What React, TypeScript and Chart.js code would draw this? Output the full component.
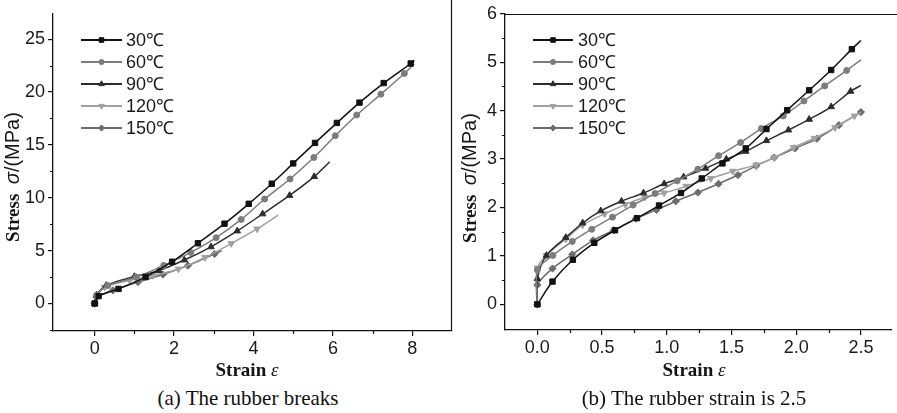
import React, { useEffect, useRef } from 'react';
import { Chart, registerables } from 'chart.js';
import { drawPoint } from 'chart.js/helpers';

Chart.register(...registerables);

// ---------- shared series info ----------
const seriesLabels = ['30℃', '60℃', '90℃', '120℃', '150℃'];
const seriesColors = ['#111111', '#7c7c7c', '#2c2c2c', '#a0a0a0', '#6c6c6c'];
const pointStyles = ['rect', 'circle', 'triangle', 'triangle', 'rectRot'];
const pointRotations = [0, 0, 0, 180, 0];
const pointRadii = [3.8, 3, 3.8, 3.8, 3.6];

const xTitleParts = ['Strain ', 'ε'];
const yTitleParts = ['Stress  ', 'σ', '/(MPa)'];

// ---------- chart (a): the rubber breaks ----------
const a30x = [0, 0.1, 0.6, 1.28, 1.95, 2.6, 3.27, 3.88, 4.46, 5.0, 5.55, 6.1, 6.67, 7.28, 7.96, 8.05];
const a30y = [0, 0.7, 1.38, 2.5, 3.95, 5.7, 7.55, 9.43, 11.33, 13.25, 15.19, 17.08, 19.0, 20.85, 22.7, 23.0];
const a60x = [0, 0.05, 0.33, 1.05, 1.74, 2.42, 3.06, 3.69, 4.28, 4.92, 5.52, 6.06, 6.6, 7.21, 7.8, 8.05];
const a60y = [0, 0.8, 1.7, 2.5, 3.6, 4.83, 6.23, 7.95, 9.88, 11.78, 13.81, 15.87, 17.83, 19.8, 21.76, 22.65];
const a90x = [0, 0.05, 0.29, 1.0, 1.61, 2.26, 2.93, 3.59, 4.23, 4.91, 5.53, 5.92];
const a90y = [0, 0.8, 1.71, 2.55, 3.11, 4.11, 5.36, 6.86, 8.47, 10.22, 12.0, 13.4];
const a120x = [0, 0.05, 0.25, 0.88, 1.47, 2.11, 2.78, 3.44, 4.09, 4.62];
const a120y = [0, 0.7, 1.55, 2.18, 2.65, 3.27, 4.36, 5.67, 7.05, 8.35];
const a150x = [0, 0.05, 0.46, 1.09, 1.72, 2.35, 3.02, 3.2];
const a150y = [0, 0.6, 1.25, 2.03, 2.74, 3.58, 4.68, 5.0];
const aXTicks = [0, 2, 4, 6, 8];
const aXMinor = [1, 3, 5, 7];
const aYTicks = [0, 5, 10, 15, 20, 25];
const aYMinor = [-2.5, 2.5, 7.5, 12.5, 17.5, 22.5];
const aMarkLast = [false, false, false, false, false];

// ---------- chart (b): strain up to 2.5 ----------
const b30x = [0, 0.117, 0.274, 0.44, 0.6, 0.77, 0.94, 1.11, 1.27, 1.43, 1.61, 1.77, 1.93, 2.1, 2.27, 2.43, 2.5];
const b30y = [0, 0.47, 0.92, 1.27, 1.53, 1.78, 2.04, 2.3, 2.6, 2.91, 3.22, 3.62, 4.01, 4.42, 4.84, 5.27, 5.45];
const b60x = [0, 0, 0.12, 0.27, 0.42, 0.58, 0.74, 0.91, 1.08, 1.24, 1.4, 1.57, 1.73, 1.9, 2.06, 2.22, 2.39, 2.5];
const b60y = [0, 0.71, 1.01, 1.3, 1.55, 1.8, 2.05, 2.29, 2.55, 2.79, 3.07, 3.34, 3.63, 3.89, 4.2, 4.51, 4.83, 5.05];
const b90x = [0, 0, 0.07, 0.22, 0.35, 0.49, 0.65, 0.82, 0.98, 1.13, 1.3, 1.46, 1.61, 1.77, 1.94, 2.1, 2.27, 2.42, 2.5];
const b90y = [0, 0.53, 1.01, 1.38, 1.68, 1.93, 2.13, 2.3, 2.49, 2.63, 2.81, 3.0, 3.16, 3.38, 3.6, 3.82, 4.08, 4.4, 4.52];
const b120x = [0, 0, 0.07, 0.22, 0.35, 0.52, 0.68, 0.83, 0.98, 1.15, 1.34, 1.51, 1.69, 1.83, 1.98, 2.14, 2.3, 2.45, 2.5];
const b120y = [0, 0.75, 1.01, 1.35, 1.64, 1.87, 2.06, 2.21, 2.3, 2.44, 2.6, 2.75, 2.88, 3.03, 3.24, 3.43, 3.65, 3.89, 3.97];
const b150x = [0, 0, 0.117, 0.27, 0.43, 0.59, 0.76, 0.92, 1.07, 1.24, 1.4, 1.55, 1.69, 1.83, 1.99, 2.16, 2.33, 2.5];
const b150y = [0, 0.4, 0.74, 1.03, 1.32, 1.53, 1.77, 1.95, 2.13, 2.31, 2.49, 2.67, 2.86, 3.03, 3.22, 3.42, 3.7, 3.97];
const bXTicks = [0, 0.5, 1.0, 1.5, 2.0, 2.5];
const bXMinor = [0.25, 0.75, 1.25, 1.75, 2.25];
const bYTicks = [0, 1, 2, 3, 4, 5, 6];
const bYMinor = [0.5, 1.5, 2.5, 3.5, 4.5, 5.5];
const bMarkLast = [false, false, false, false, true];

const SANS = '"Liberation Sans", Arial, sans-serif';
const SERIF = '"Liberation Serif", "Times New Roman", serif';

function buildDatasets(xs: number[][], ys: number[][], markLast: boolean[]) {
  return xs.map((xa, s) => {
    const n = xa.length;
    return {
      label: seriesLabels[s],
      data: xa.map((x, i) => ({ x, y: ys[s][i] })),
      borderColor: seriesColors[s],
      backgroundColor: seriesColors[s],
      pointBackgroundColor: seriesColors[s],
      pointBorderColor: seriesColors[s],
      borderWidth: 1.5,
      pointStyle: pointStyles[s],
      pointRotation: pointRotations[s],
      pointBorderWidth: 1,
      pointRadius: (ctx: any) => (ctx.dataIndex === n - 1 && !markLast[s] ? 0 : pointRadii[s]),
      tension: 0.3,
      fill: false,
    };
  });
}

function drawRich(ctx: CanvasRenderingContext2D, parts: { text: string; font: string }[], cx: number, cy: number, rot: number) {
  ctx.save();
  ctx.translate(cx, cy);
  ctx.rotate(rot);
  const widths = parts.map((p) => {
    ctx.font = p.font;
    return ctx.measureText(p.text).width;
  });
  const total = widths.reduce((a, b) => a + b, 0);
  let x = -total / 2;
  ctx.textAlign = 'left';
  ctx.textBaseline = 'alphabetic';
  ctx.fillStyle = '#151515';
  parts.forEach((p, i) => {
    ctx.font = p.font;
    ctx.fillText(p.text, x, 6);
    x += widths[i];
  });
  ctx.restore();
}

const decorPlugin = {
  id: 'decor',
  afterDraw(chart: any, _args: any, opts: any) {
    const ctx: CanvasRenderingContext2D = chart.ctx;
    const { left, right, top, bottom } = chart.chartArea;
    const xs = chart.scales.x;
    const ys = chart.scales.y;
    ctx.save();
    ctx.strokeStyle = '#111';
    ctx.lineWidth = 1.2;
    // minor ticks
    ctx.beginPath();
    (opts.xMinor || []).forEach((v: number) => {
      const px = Math.round(xs.getPixelForValue(v)) + 0.5;
      ctx.moveTo(px, bottom);
      ctx.lineTo(px, bottom + 3);
    });
    (opts.yMinor || []).forEach((v: number) => {
      const py = Math.round(ys.getPixelForValue(v)) + 0.5;
      if (py < top || py > bottom) return;
      ctx.moveTo(left, py);
      ctx.lineTo(left - 3, py);
    });
    ctx.stroke();
    // frame parts
    ctx.beginPath();
    if (opts.rightBorder) {
      const rx = Math.round(right) - 0.5;
      ctx.moveTo(rx, 0);
      ctx.lineTo(rx, bottom);
    }
    if (opts.topBorder) {
      const ty = Math.round(top) + 0.5;
      ctx.moveTo(left, ty);
      ctx.lineTo(chart.width, ty);
    }
    ctx.stroke();
    ctx.restore();

    // axis titles
    drawRich(
      ctx,
      [
        { text: xTitleParts[0], font: `bold 19px ${SERIF}` },
        { text: xTitleParts[1], font: `italic 19px ${SERIF}` },
      ],
      opts.xTitle[0],
      opts.xTitle[1],
      0
    );
    drawRich(
      ctx,
      [
        { text: yTitleParts[0], font: `bold 19px ${SERIF}` },
        { text: yTitleParts[1], font: `italic 20px ${SANS}` },
        { text: yTitleParts[2], font: `20px ${SANS}` },
      ],
      opts.yTitle[0],
      opts.yTitle[1],
      -Math.PI / 2
    );

    // legend (line + marker, Origin style)
    const lg = opts.legend;
    chart.data.datasets.forEach((ds: any, i: number) => {
      const y = lg.y0 + i * lg.dy;
      ctx.save();
      ctx.strokeStyle = ds.borderColor;
      ctx.fillStyle = ds.borderColor;
      ctx.lineWidth = 2;
      ctx.beginPath();
      ctx.moveTo(lg.x0, y);
      ctx.lineTo(lg.x1, y);
      ctx.stroke();
      ctx.lineWidth = 1;
      drawPoint(ctx, { pointStyle: ds.pointStyle, rotation: ds.pointRotation, radius: pointRadii[i] * 0.85, borderWidth: 1 } as any, (lg.x0 + lg.x1) / 2, y);
      ctx.font = `18px ${SANS}`;
      ctx.fillStyle = '#1a1a1a';
      ctx.textAlign = 'left';
      ctx.textBaseline = 'middle';
      ctx.fillText(ds.label, lg.tx, y + 1);
      ctx.restore();
    });
  },
};

function axisCommon(ticks: number[], decimals: number, fitSize: number, horizontal: boolean, min: number, max: number) {
  return {
    type: 'linear',
    min,
    max,
    afterBuildTicks: (s: any) => {
      s.ticks = ticks.map((v) => ({ value: v }));
    },
    afterFit: (s: any) => {
      if (horizontal) s.height = fitSize;
      else s.width = fitSize;
    },
    grid: { drawOnChartArea: false, drawTicks: true, tickLength: 5, color: '#111', lineWidth: 1.2 },
    border: { display: true, color: '#111', width: 1.3 },
    ticks: {
      autoSkip: false,
      maxRotation: 0,
      padding: horizontal ? 2 : 3,
      color: '#1a1a1a',
      font: { family: SANS, size: 18 },
      callback: (v: any) => Number(v).toFixed(decimals),
    },
  };
}

function makeConfig(p: any) {
  return {
    type: 'line',
    data: { datasets: p.datasets },
    options: {
      animation: false,
      responsive: false,
      devicePixelRatio: 1,
      layout: { padding: p.padding },
      plugins: {
        legend: { display: false },
        tooltip: { enabled: false },
        decor: p.decor,
      },
      scales: {
        x: axisCommon(p.xTicks, p.xDec, p.xFit, true, p.xMin, p.xMax),
        y: axisCommon(p.yTicks, 0, p.yFit, false, p.yMin, p.yMax),
      },
    },
    plugins: [decorPlugin],
  };
}

export default function App() {
  const refA = useRef<HTMLCanvasElement>(null);
  const refB = useRef<HTMLCanvasElement>(null);

  useEffect(() => {
    const chartA = new Chart(
      refA.current as HTMLCanvasElement,
      makeConfig({
        datasets: buildDatasets([a30x, a60x, a90x, a120x, a150x], [a30y, a60y, a90y, a120y, a150y], aMarkLast),
        padding: { left: 0, top: 10, right: 8, bottom: 0 },
        xTicks: aXTicks,
        yTicks: aYTicks,
        xDec: 0,
        xFit: 49,
        yFit: 53,
        xMin: -1.05,
        xMax: 9,
        yMin: -2.6,
        yMax: 27.4,
        decor: {
          xMinor: aXMinor,
          yMinor: aYMinor,
          rightBorder: true,
          topBorder: false,
          xTitle: [247, 370],
          yTitle: [13, 177],
          legend: { x0: 81, x1: 122, tx: 126, y0: 40, dy: 22 },
        },
      }) as any
    );
    const chartB = new Chart(
      refB.current as HTMLCanvasElement,
      makeConfig({
        datasets: buildDatasets([b30x, b60x, b90x, b120x, b150x], [b30y, b60y, b90y, b120y, b150y], bMarkLast),
        padding: { left: 0, top: 12, right: 0, bottom: 0 },
        xTicks: bXTicks,
        yTicks: bYTicks,
        xDec: 1,
        xFit: 50,
        yFit: 53,
        xMin: -0.25,
        xMax: 2.74,
        yMin: -0.53,
        yMax: 6,
        decor: {
          xMinor: bXMinor,
          yMinor: bYMinor,
          rightBorder: false,
          topBorder: true,
          xTitle: [242, 370],
          yTitle: [18, 178],
          legend: { x0: 81, x1: 121, tx: 126, y0: 40, dy: 22 },
        },
      }) as any
    );
    return () => {
      chartA.destroy();
      chartB.destroy();
    };
  }, []);

  return (
    <div style={{ position: 'absolute', left: 0, top: 0, width: 897, height: 413, background: '#fff', overflow: 'hidden' }}>
      <canvas ref={refA} width={460} height={380} style={{ position: 'absolute', left: 0, top: 0 }} />
      <canvas ref={refB} width={445} height={380} style={{ position: 'absolute', left: 452, top: 0 }} />
      <div
        style={{
          position: 'absolute',
          left: 0,
          width: 496,
          top: 386,
          textAlign: 'center',
          fontFamily: SERIF,
          fontSize: 21,
          lineHeight: '24px',
          color: '#111',
        }}
      >
        (a) The rubber breaks
      </div>
      <div
        style={{
          position: 'absolute',
          left: 494,
          width: 400,
          top: 386,
          textAlign: 'center',
          fontFamily: SERIF,
          fontSize: 21,
          lineHeight: '24px',
          color: '#111',
        }}
      >
        (b) The rubber strain is 2.5
      </div>
    </div>
  );
}
